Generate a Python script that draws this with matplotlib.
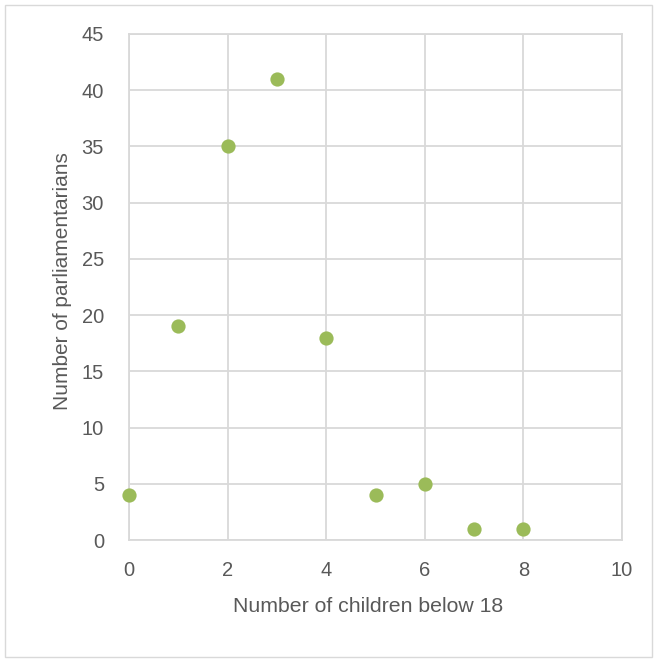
import matplotlib
matplotlib.use("Agg")
from matplotlib import pyplot as plt
import matplotlib.patches as patches

plt.rcParams['font.family'] = ['Liberation Sans', 'DejaVu Sans']

# data
children = [0, 1, 2, 3, 4, 5, 6, 7, 8]
parliamentarians = [4, 19, 35, 41, 18, 4, 5, 1, 1]
x_ticks = [0, 2, 4, 6, 8, 10]
y_ticks = [0, 5, 10, 15, 20, 25, 30, 35, 40, 45]

grid_col = '#D9D9D9'
text_col = '#595959'

fig = plt.figure(figsize=(6.54, 6.61), dpi=100)
ax = fig.add_axes([129/654, 1 - 540/661, (622-129)/654, (540-34)/661])

# outer chart border
fig.patches.append(patches.Rectangle((5/654, 4/661), 647/654, 652/661,
                                     transform=fig.transFigure, fill=False,
                                     edgecolor='#D9D9D9', lw=1))

ax.scatter(children, parliamentarians, s=105, color='#9BBB59', zorder=3,
           clip_on=False, linewidths=0)

ax.set_xlim(0, 10)
ax.set_ylim(0, 45)
ax.set_xticks(x_ticks)
ax.set_yticks(y_ticks)
ax.grid(True, color=grid_col, lw=1.3)
ax.set_axisbelow(True)
for s in ax.spines.values():
    s.set_color(grid_col)
    s.set_linewidth(1.3)
ax.tick_params(length=0, labelsize=14.5, colors=text_col)
ax.tick_params(axis='x', pad=15)
ax.tick_params(axis='y', pad=18)

ax.set_xlabel('Number of children below 18', fontsize=15.3, color=text_col, labelpad=12)
ax.set_ylabel('Number of parliamentarians', fontsize=15, color=text_col, labelpad=7)
# labels are centred a little off the plot area centre, as in the original
ax.xaxis.label.set_x(0.485)
ax.yaxis.label.set_y(0.511)

fig.savefig('out.png', dpi=100)
